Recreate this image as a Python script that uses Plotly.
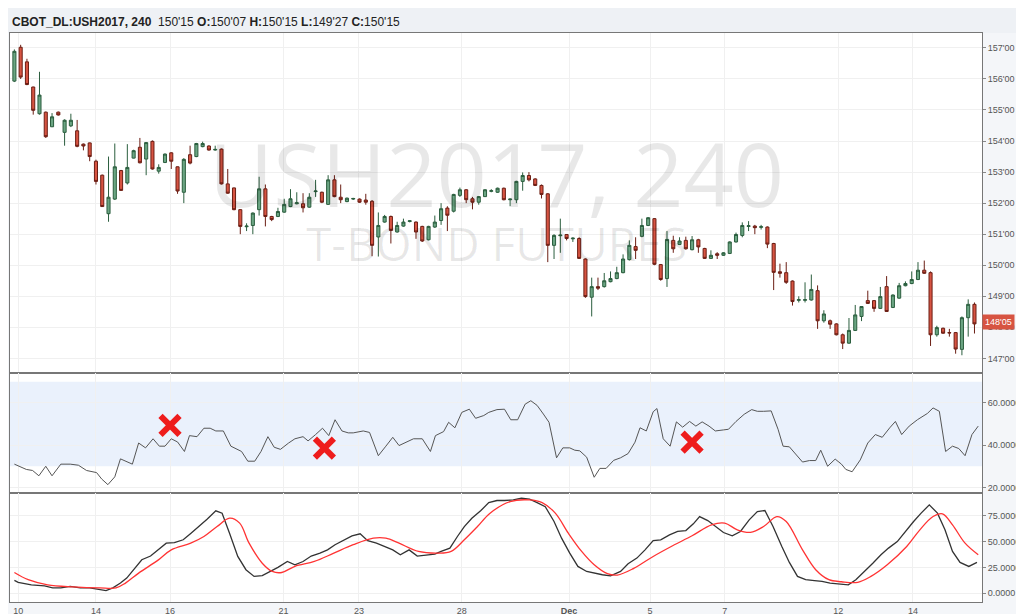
import plotly.graph_objects as go
from plotly.subplots import make_subplots

# OHLC for the 4h bars (price in points, 32nds shown as decimals)
opens = [155.93, 157.02, 156.55, 155.74, 154.88, 154.93, 154.46, 154.93, 154.28, 154.49,
         154.33, 153.90, 153.94, 153.35, 152.90, 151.66, 152.13, 153.05, 152.65, 153.45,
         153.80, 153.42, 153.99, 153.03, 153.31, 153.62, 153.17, 152.35, 153.56, 153.50,
         153.82, 153.84, 153.71, 153.74, 152.62, 152.49, 151.79, 151.24, 151.28, 151.79,
         152.46, 151.57, 151.57, 151.71, 151.89, 151.98, 151.98, 151.87, 152.37, 152.35,
         151.96, 152.75, 152.19, 152.05, 152.13, 152.13, 152.10, 152.06, 150.91, 151.39,
         151.57, 151.07, 151.26, 151.41, 151.39, 151.25, 150.82, 151.23, 151.44, 151.84,
         151.74, 152.25, 152.43, 152.14, 152.03, 152.21, 152.38, 152.35, 152.48, 152.11,
         152.11, 152.70, 152.89, 152.78, 152.57, 152.30, 150.64, 150.95, 150.99, 150.85,
         150.86, 150.20, 148.97, 149.31, 149.31, 149.47, 149.57, 149.76, 150.18, 150.60,
         150.93, 151.28, 151.50, 150.02, 149.57, 150.80, 150.67, 150.80, 150.50, 150.82,
         150.54, 150.22, 150.37, 150.32, 150.38, 150.75, 150.96, 151.25, 151.26, 151.22,
         151.23, 150.70, 149.79, 149.76, 149.49, 148.87, 148.87, 148.88, 149.18, 148.21,
         148.21, 148.11, 147.76, 147.49, 147.90, 148.35, 148.86, 148.86, 148.61, 149.31,
         148.64, 148.94, 149.34, 149.41, 149.54, 149.84, 149.76, 147.76, 147.97, 147.83,
         147.83, 147.29, 148.31, 148.74]
closes = [156.89, 156.06, 155.82, 154.99, 155.48, 154.14, 154.78, 154.84, 154.67, 154.67,
          153.83, 153.84, 153.50, 152.70, 151.89, 152.19, 153.17, 152.41, 153.15, 153.69,
          153.30, 153.95, 153.10, 153.15, 153.58, 153.35, 152.39, 153.41, 153.29, 153.92,
          153.92, 153.71, 153.73, 152.62, 152.32, 151.79, 151.25, 151.26, 151.68, 152.46,
          151.57, 151.47, 151.73, 151.96, 152.14, 152.01, 151.85, 152.19, 152.39, 152.03,
          152.75, 152.21, 152.11, 152.16, 152.15, 152.03, 152.03, 150.64, 151.28, 151.57,
          151.12, 151.28, 151.39, 151.43, 151.07, 150.78, 151.25, 151.39, 151.82, 151.61,
          152.28, 152.43, 152.11, 152.03, 152.21, 152.43, 152.40, 152.48, 152.11, 152.13,
          152.70, 152.89, 152.75, 152.57, 152.28, 150.64, 150.96, 150.97, 150.86, 150.87,
          150.22, 148.99, 149.31, 149.26, 149.50, 149.57, 149.76, 150.20, 150.64, 150.48,
          151.28, 151.53, 150.03, 149.54, 150.83, 150.53, 150.78, 150.53, 150.82, 150.59,
          150.22, 150.32, 150.32, 150.40, 150.75, 150.99, 151.28, 151.27, 151.21, 151.24,
          150.68, 149.77, 149.74, 149.45, 148.83, 148.89, 148.89, 149.22, 148.21, 148.43,
          148.10, 147.76, 147.49, 147.90, 148.40, 148.67, 148.77, 148.61, 148.99, 148.51,
          149.04, 149.34, 149.41, 149.54, 149.84, 149.74, 147.76, 147.99, 147.81, 147.82,
          147.30, 148.31, 148.74, 148.11]
highs = [156.95, 157.10, 156.65, 155.75, 156.23, 154.95, 154.90, 154.95, 154.70, 154.88,
         154.68, 153.92, 153.95, 153.40, 152.92, 153.50, 153.92, 153.07, 153.90, 153.72,
         154.10, 153.97, 154.02, 153.25, 153.60, 153.64, 153.18, 153.45, 153.85, 153.94,
         153.98, 153.86, 153.85, 153.76, 153.10, 152.50, 151.80, 151.35, 151.70, 152.85,
         152.60, 151.59, 151.85, 152.14, 152.45, 152.35, 152.32, 152.32, 152.75, 152.37,
         152.90, 152.90, 152.60, 152.18, 152.17, 152.15, 152.30, 152.10, 151.70, 151.62,
         151.60, 151.40, 151.50, 151.45, 151.41, 151.27, 151.27, 151.60, 152.00, 151.90,
         152.30, 152.50, 152.45, 152.20, 152.23, 152.45, 152.45, 152.50, 152.50, 152.15,
         152.72, 152.99, 153.00, 152.80, 152.60, 152.32, 151.00, 151.50, 151.00, 150.90,
         150.90, 150.22, 149.60, 149.60, 149.75, 149.80, 149.95, 150.35, 150.80, 150.90,
         151.50, 151.55, 151.52, 150.04, 151.10, 150.95, 150.90, 150.92, 150.94, 150.85,
         150.56, 150.48, 150.42, 150.42, 150.77, 151.05, 151.38, 151.42, 151.30, 151.30,
         151.25, 150.72, 150.05, 150.10, 149.51, 149.00, 149.45, 149.70, 149.35, 148.55,
         148.25, 148.13, 147.80, 148.30, 148.72, 148.68, 149.18, 148.88, 149.30, 149.65,
         149.06, 149.43, 149.48, 149.80, 150.10, 150.15, 149.80, 148.05, 147.99, 147.95,
         147.85, 148.35, 148.90, 148.80]
lows = [155.90, 156.00, 155.80, 154.85, 154.85, 154.10, 154.45, 154.82, 153.85, 154.45,
        153.80, 153.70, 153.35, 152.60, 151.88, 151.40, 152.10, 152.40, 152.60, 153.44,
        153.28, 152.90, 153.08, 152.95, 153.29, 153.10, 152.30, 152.00, 153.25, 153.48,
        153.80, 153.69, 153.69, 152.60, 152.30, 151.77, 151.00, 151.10, 151.00, 151.60,
        151.25, 151.42, 151.55, 151.69, 151.87, 151.96, 151.70, 151.85, 152.20, 152.00,
        151.94, 152.19, 152.00, 152.03, 152.10, 152.01, 151.95, 150.29, 150.28, 151.37,
        150.70, 151.05, 151.24, 151.38, 150.85, 150.75, 150.80, 151.20, 151.30, 151.10,
        151.70, 152.20, 152.00, 151.80, 151.95, 152.20, 152.35, 152.33, 152.09, 151.90,
        152.00, 152.40, 152.70, 152.55, 152.15, 150.10, 150.20, 150.40, 150.80, 150.75,
        150.20, 148.95, 148.35, 149.20, 149.28, 149.45, 149.55, 149.74, 150.15, 150.20,
        150.90, 151.26, 150.00, 149.50, 149.30, 150.40, 150.65, 150.50, 150.48, 150.40,
        150.20, 150.20, 150.20, 150.30, 150.36, 150.73, 150.90, 151.10, 151.00, 151.15,
        150.55, 149.20, 149.60, 149.40, 148.70, 148.80, 148.80, 148.86, 147.95, 148.15,
        147.95, 147.74, 147.30, 147.47, 147.88, 148.20, 148.75, 148.50, 148.59, 148.50,
        148.62, 148.92, 149.32, 149.39, 149.52, 149.72, 147.40, 147.70, 147.79, 147.70,
        147.15, 147.10, 147.70, 147.80]

# RSI trace (bar position, value)
rsi_x = [0, 1.9, 2.9, 3.9, 5, 6, 7.4, 8.9, 10.2, 11.5, 13.1, 13.9, 14.9, 16, 16.9, 18.8, 19.8,
         20.9, 22.1, 23.1, 24, 25, 26, 27.1, 27.9, 29.1, 30.2, 31.2, 32.1, 33.3, 34.5, 36.2,
         37.2, 38.3, 39.3, 40.4, 41.4, 42.4, 43.7, 44.7, 46, 46.8, 48, 49.1, 50.1, 51.1, 52.2,
         53.2, 54, 55.6, 56.6, 58, 59.2, 60.3, 61.3, 62.6, 63.6, 65, 66.3, 67.1, 68.4, 69.2,
         70.2, 71.3, 72.5, 73.5, 74.8, 75.6, 76.9, 78.1, 79.1, 80.2, 81.4, 82.3, 83.3, 84.3,
         85.2, 86.4, 87.4, 88.5, 89.3, 90.1, 91.2, 92.4, 93.3, 94.3, 95.5, 96.6, 97.8, 98.9,
         99.7, 100.7, 101.8, 102.4, 103.4, 104.5, 105.5, 106.5, 107.6, 108.6, 109.6, 110.7,
         111.7, 113, 113.8, 115, 116.3, 117.5, 118.4, 119.4, 120.6, 121.7, 122.5, 123.5,
         124.6, 125.6, 126.7, 127.7, 128.5, 129.6, 130.8, 131.8, 132.5, 133.5, 134.8, 136,
         137.2, 138.3, 139.5, 140.4, 141.4, 142.6, 143.9, 144.7, 145.5, 146.4, 147.4, 148.4,
         149.5, 150.5, 151.5, 152.6, 153.6]
rsi = [31, 28.5, 28, 25.5, 30, 25.5, 31, 31, 30.5, 28, 27, 24, 21.3, 25, 33.5, 31, 41,
       38.7, 43, 39.5, 39.5, 43, 41.5, 37, 44.5, 44, 48, 48, 46.7, 46.7, 39.5, 37, 32.4,
       32.4, 37, 44, 39, 38, 41, 43, 44, 42, 45, 48, 44.5, 52, 46.7, 45.8, 45.8, 46.7, 46,
       35, 39.5, 43.7, 39.8, 41.7, 43, 43, 37, 44.5, 46.4, 50.8, 48.2, 55.5, 57, 52.7, 54,
       55.5, 56.8, 57, 52, 52, 59.4, 61, 58.8, 54.7, 50.8, 34, 38.7, 38.7, 37.6, 37.3,
       34.3, 24.8, 29, 29, 32.8, 34, 36, 41.4, 48.2, 46.7, 55.8, 57.3, 43, 39.5, 51, 48.5,
       51.2, 49, 51, 49, 46.7, 47.2, 47.5, 51.2, 54.6, 56.8, 56, 56, 56.2, 47.5, 39.5,
       39.2, 35.4, 32, 32.7, 32.7, 37.6, 30, 33.4, 31, 28.5, 27.4, 33, 41, 45, 43.7, 48.2,
       51.2, 45, 49, 52, 53.5, 55, 57.6, 56, 37, 39.5, 38.4, 35, 45, 49, 44.5]

# stochastic %K (black) and %D (red)
k_x = [0, 0.6, 2.7, 4.8, 6.1, 7.4, 8.9, 10.5, 12, 13.6, 14.6, 15.7, 16.9, 17.9, 19, 20.3,
       21.7, 22.9, 24.2, 25.5, 26.9, 28.1, 29.4, 30.7, 32.1, 33.1, 34.3, 35.6, 36.9, 38.2,
       39.5, 40.8, 42, 43.5, 44.7, 46, 47.3, 48.7, 49.9, 51.1, 52.5, 53.8, 55.1, 56.3, 57.7,
       59, 60.3, 61.5, 62.9, 64.2, 65.5, 67, 68, 69.4, 70.6, 71.7, 72.9, 74.3, 75.6, 76.9,
       78.1, 79.5, 80.8, 82.1, 83.3, 84.6, 86, 87.2, 88.5, 89.8, 91.2, 92.4, 93.7, 95, 96.6,
       97.8, 99.2, 100.5, 101.8, 103, 104.4, 105.7, 107, 108.2, 109.2, 110.5, 111.7, 113,
       114.4, 115.7, 117.1, 118.4, 119.6, 120.9, 122.3, 123.5, 124.8, 126.1, 127.5, 128.7,
       130, 131.3, 132.9, 134.1, 135.5, 136.8, 138.1, 139.3, 140.7, 142, 143.3, 144.5,
       145.8, 147.1, 148.3, 149.5, 150.7, 152.1, 153.4]
k_vals = [12.3, 10.4, 8, 7, 5, 5, 6.5, 5, 5, 3.2, 2.3, 5, 9.7, 14.6, 22.7, 32.4, 36, 42,
          48.5, 49, 51.8, 58, 64.7, 71.8, 80, 77.7, 58, 35.6, 22.7, 16.2, 17, 21, 25, 30.7,
          27.5, 30.7, 36, 38.8, 42, 47, 51.8, 55.6, 57.6, 51, 48.5, 45.3, 42, 37.2, 42, 36,
          37, 37.9, 40.5, 43.7, 55, 64.7, 72.8, 80, 88, 90, 90, 90.6, 92.2, 91.3, 88, 84,
          69.6, 53.4, 38.8, 25.9, 21, 19.4, 17.8, 16.8, 21, 28.5, 34, 42, 51, 51.8, 56.6,
          59.9, 60.8, 67.3, 74.4, 70.5, 64.7, 58.9, 55.7, 59.9, 71.2, 79.3, 80.3, 64.7, 45.3,
          29.8, 16.2, 13, 12, 11.3, 9.7, 9, 8, 13, 21, 29, 37.2, 43.7, 50, 60, 69.6, 77.7,
          85.8, 77.7, 61.5, 40.5, 29.8, 25.9, 29.8]
d_x = [0, 2.2, 5.3, 9.4, 13.6, 16.2, 17.7, 19.8, 22.9, 25, 28.1, 30.2, 32.3, 34.3, 35.9,
       37.4, 39.5, 41.1, 42.6, 44.7, 47.8, 50.9, 54, 57.2, 59.2, 61.3, 64.4, 67.5, 69.6,
       71.7, 73.8, 75.8, 79, 82.1, 84.1, 86.2, 88.3, 90.4, 92.4, 94.5, 96.1, 98.7, 101.8,
       104.9, 108, 111.1, 113.2, 115.2, 117.3, 119.4, 121.5, 123, 125.6, 127.7, 129.8,
       131.8, 134.4, 136.5, 139.1, 142.2, 144.3, 146.4, 147.9, 149.5, 151.5, 153.6]
d_vals = [20, 13, 8, 6, 5, 5, 9.7, 19.4, 32, 42, 48.5, 55, 64.7, 72.8, 68, 48.5, 29, 21,
          20, 26, 30.7, 38.8, 47, 53.4, 53.4, 48.5, 40.5, 38.8, 40.5, 51.8, 64.7, 77.7, 89,
          90.6, 88, 77.7, 58, 40.5, 27.5, 18.8, 17.5, 24, 35.6, 46, 55.7, 66.3, 68, 61.5,
          59, 64.7, 74.4, 69.6, 42, 22.7, 13, 11, 10.4, 16.2, 27.5, 45.3, 61.5, 74.4, 77,
          66.3, 48.5, 37.2]

# red crosses drawn on the RSI pane
mark_x = [24.8, 49.4, 108]
mark_y = [49.3, 38.6, 41.4]

tick_pos = [0.6, 13, 24.8, 42.9, 54.9, 71.3, 88.4, 101.3, 113.2, 131.3, 143.2]
tick_txt = ['10', '14', '16', '21', '23', '28', '<b>Dec</b>', '5', '7', '12', '14']
price_ticks = list(range(147, 158))
bars = list(range(len(opens)))

fig = make_subplots(rows=3, cols=1, shared_xaxes=True, vertical_spacing=0,
                    row_heights=[0.598, 0.211, 0.191])

# RSI band
fig.add_shape(type='rect', xref='x2 domain', yref='y2', x0=0, x1=1, y0=30, y1=70,
              fillcolor='#eaf1fc', line_width=0, layer='below')

fig.add_trace(go.Candlestick(
    x=bars, open=opens, high=highs, low=lows, close=closes,
    increasing=dict(fillcolor='#6ba583', line=dict(color='#2b5e3e', width=1)),
    decreasing=dict(fillcolor='#d75442', line=dict(color='#6b1e14', width=1)),
    whiskerwidth=0, showlegend=False), row=1, col=1)

for lv in (30, 70):
    fig.add_hline(y=lv, line=dict(color='#c4c4c4', width=1, dash='dot'), row=2, col=1)
for lv in (20, 80):
    fig.add_hline(y=lv, line=dict(color='#bbbbbb', width=1, dash='dot'), row=3, col=1)

fig.add_trace(go.Scatter(x=rsi_x, y=rsi, mode='lines', line=dict(color='#555555', width=1),
                         showlegend=False), row=2, col=1)
fig.add_trace(go.Scatter(x=mark_x, y=mark_y, mode='markers',
                         marker=dict(symbol='x-thin', size=19, color='#ee1c1c',
                                     line=dict(width=6, color='#ee1c1c')),
                         showlegend=False), row=2, col=1)

fig.add_trace(go.Scatter(x=k_x, y=k_vals, mode='lines', line=dict(color='#333333', width=1.3),
                         showlegend=False), row=3, col=1)
fig.add_trace(go.Scatter(x=d_x, y=d_vals, mode='lines', line=dict(color='#ff3333', width=1.3),
                         line_shape='spline', showlegend=False), row=3, col=1)

axis_font = dict(family='Arial', size=9, color='#555555')
fig.update_xaxes(range=[-0.7, 154.2], rangeslider_visible=False, showgrid=True,
                 gridcolor='#f0f0f0', tickvals=tick_pos, ticktext=tick_txt,
                 showline=True, linecolor='#777777', mirror=True, ticks='',
                 tickfont=axis_font, zeroline=False)
fig.update_xaxes(showticklabels=False, row=1, col=1)
fig.update_xaxes(showticklabels=False, row=2, col=1)
fig.update_xaxes(showticklabels=True, row=3, col=1)

fig.update_yaxes(side='right', showgrid=True, gridcolor='#f0f0f0', zeroline=False,
                 showline=True, linecolor='#777777', mirror=True, ticks='outside',
                 ticklen=3, tickcolor='#888888', tickfont=axis_font)
fig.update_yaxes(range=[146.52, 157.48], tickvals=price_ticks,
                 ticktext=["%d'00" % p for p in price_ticks], row=1, col=1)
fig.update_yaxes(range=[17.2, 74], tickvals=[20, 40, 60],
                 ticktext=['20.0000', '40.0000', '60.0000'], row=2, col=1)
fig.update_yaxes(range=[-8.7, 97], tickvals=[0, 25, 50, 75],
                 ticktext=['0.0000', '25.0000', '50.0000', '75.0000'], row=3, col=1)

fig.add_annotation(xref='paper', yref='paper', x=0.5, y=0.754, yanchor='middle', showarrow=False,
                   text='USH2017, 240', font=dict(family='Open Sans', size=88, color='rgba(0,0,0,0.09)'))
fig.add_annotation(xref='paper', yref='paper', x=0.5, y=0.631, yanchor='middle', showarrow=False,
                   text='T-BOND FUTURES', font=dict(family='Open Sans', size=46, color='rgba(0,0,0,0.09)'))
fig.add_annotation(xref='paper', yref='paper', x=0.0, y=1.0, yshift=2, xanchor='left',
                   yanchor='bottom', showarrow=False,
                   text="<b>CBOT_DL:USH2017, 240</b>  150'15 <b>O:</b>150'07 <b>H:</b>150'15 <b>L:</b>149'27 <b>C:</b>150'15",
                   font=dict(family='Arial', size=12, color='#222222'))
fig.add_annotation(xref='paper', yref='y', x=1.0, y=148.16, xanchor='left', showarrow=False,
                   text="148'05", bgcolor='#d75442', font=dict(family='Arial', size=9, color='white'),
                   borderpad=2)

fig.add_shape(type='rect', xref='paper', yref='paper', x0=-0.01, x1=1.06, y0=1.0, y1=1.05,
              fillcolor='#eef1f5', line_width=0, layer='below')

fig.update_layout(width=1024, height=614, margin=dict(l=2, r=50, t=25, b=20),
                  plot_bgcolor='white', paper_bgcolor='#f4f6f9')
fig.write_html("out.html")
